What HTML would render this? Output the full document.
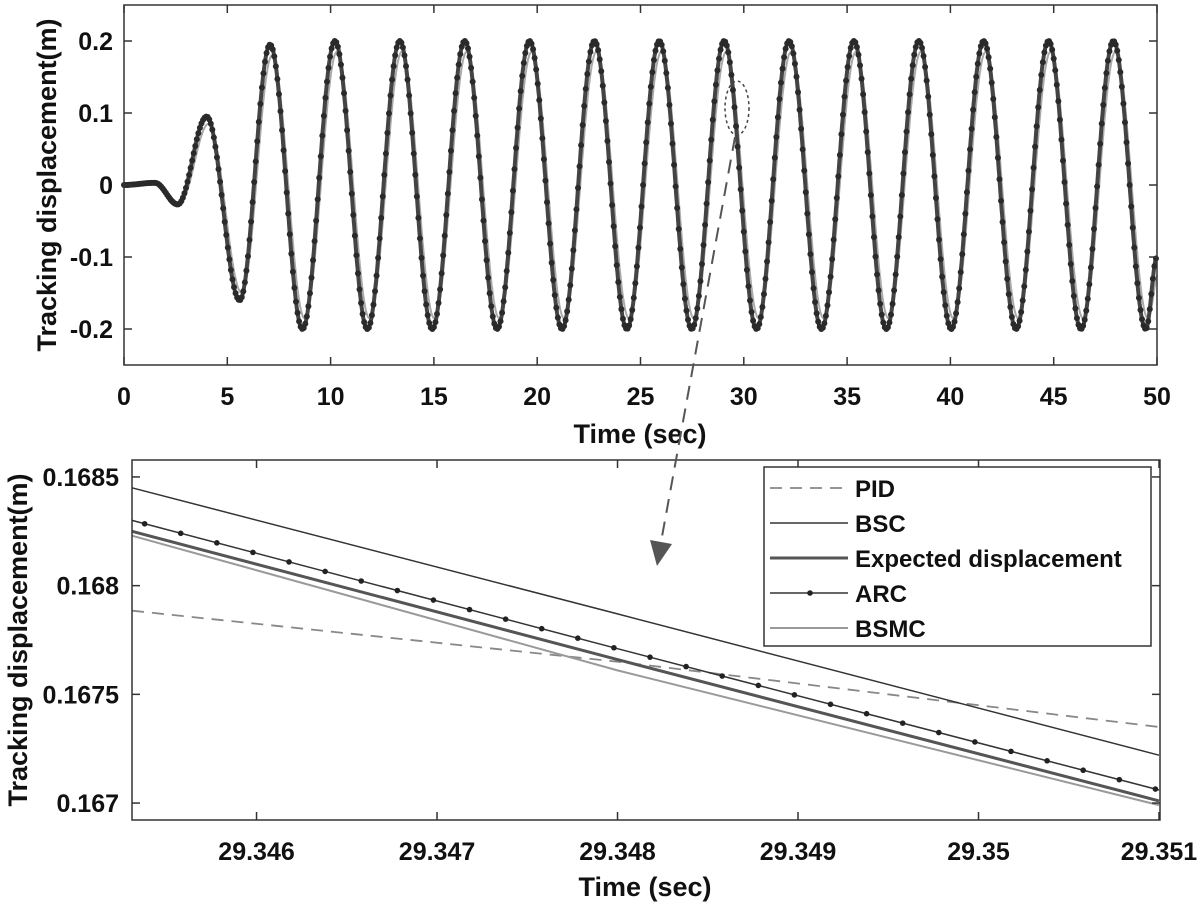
<!DOCTYPE html>
<html><head><meta charset="utf-8"><style>
html,body{margin:0;padding:0;background:#fff;}
svg{display:block;font-family:"Liberation Sans",Arial,sans-serif;font-weight:bold;}
</style></head><body>
<svg id="fig" width="1200" height="906" viewBox="0 0 1200 906" xmlns="http://www.w3.org/2000/svg"></svg>
<script>
// ---- Top chart data (extrema of each response) ----
const topExtremaTimes = [0,1.5,2.6,4.0,5.6,7.07,8.64,10.21,11.78,13.35,14.92,16.49,18.06,19.63,21.2,22.77,24.34,25.91,27.48,29.05,30.62,32.19,33.76,35.33,36.9,38.47,40.04,41.61,43.18,44.75,46.32,47.89,49.46,50];
const expectedExtrema = [0,0.003,-0.027,0.095,-0.16,0.195,-0.2,0.2,-0.2,0.2,-0.2,0.2,-0.2,0.2,-0.2,0.2,-0.2,0.2,-0.2,0.2,-0.2,0.2,-0.2,0.2,-0.2,0.2,-0.2,0.2,-0.2,0.2,-0.2,0.2,-0.2,-0.1];
const bsmcExtrema = [0,0.002,-0.025,0.085,-0.15,0.18,-0.185,0.185,-0.185,0.185,-0.185,0.185,-0.185,0.185,-0.185,0.185,-0.185,0.185,-0.185,0.185,-0.185,0.185,-0.185,0.185,-0.185,0.185,-0.185,0.185,-0.185,0.185,-0.185,0.185,-0.185,-0.12];
const topXTicks = [0,5,10,15,20,25,30,35,40,45,50];
const topYTicks = [-0.2,-0.1,0,0.1,0.2];
const topYTickLabels = ["-0.2","-0.1","0","0.1","0.2"];

// ---- Zoom chart data ----
const zoomTimes = [29.34531,29.348,29.351];
const pidValues = [0.167885,0.16765,0.16735];
const bscValues = [0.16845,0.16787,0.16722];
const expectedValues = [0.16825,0.16766,0.16701];
const arcValues = [0.16830,0.16771,0.16706];
const bsmcValues = [0.16823,0.16761,0.16699];
const zoomXTicks = [29.346,29.347,29.348,29.349,29.35,29.351];
const zoomXTickLabels = ["29.346","29.347","29.348","29.349","29.35","29.351"];
const zoomYTicks = [0.167,0.1675,0.168,0.1685];
const zoomYTickLabels = ["0.167","0.1675","0.168","0.1685"];
const legendNames = ["PID","BSC","Expected displacement","ARC","BSMC"];

const svg=document.getElementById('fig');
const NS='http://www.w3.org/2000/svg';
function mk(tag,attrs,parent){const e=document.createElementNS(NS,tag);for(const k in attrs)e.setAttribute(k,attrs[k]);(parent||svg).appendChild(e);return e;}

// Top axes
const T={x0:124,x1:1157,y0:5,y1:365,xmin:0,xmax:50,ymin:-0.25,ymax:0.25};
const tx=v=>T.x0+(v-T.xmin)/(T.xmax-T.xmin)*(T.x1-T.x0);
const ty=v=>T.y1-(v-T.ymin)/(T.ymax-T.ymin)*(T.y1-T.y0);
function evalExt(times,vals,t){
  for(let i=0;i<times.length-1;i++){
    if(t>=times[i]&&t<=times[i+1]){const u=(t-times[i])/(times[i+1]-times[i]);return vals[i]+(vals[i+1]-vals[i])*(1-Math.cos(Math.PI*u))/2;}
  }
  return vals[vals.length-1];
}
function pathExt(times,vals,step,lag){
  let d='';
  for(let t=T.xmin;t<=T.xmax+1e-9;t+=step){d+=(d?'L':'M')+tx(t).toFixed(1)+','+ty(evalExt(times,vals,Math.max(0,t-lag))).toFixed(1);}
  return d;
}
let g=mk('g',{});


let p=mk('path',{d:pathExt(topExtremaTimes,bsmcExtrema,0.02,0.1),fill:'none',stroke:'#aaa','stroke-width':2},g);


p=mk('path',{d:pathExt(topExtremaTimes,expectedExtrema,0.02,0),fill:'none',stroke:'#444','stroke-width':4},g);


for(let t=0;t<=50;t+=0.075){
  const c=mk('circle',{cx:tx(t),cy:ty(evalExt(topExtremaTimes,expectedExtrema,t)),r:3,fill:'#2a2a2a'},g);
  
  
}
let r=mk('rect',{x:T.x0,y:T.y0,width:T.x1-T.x0,height:T.y1-T.y0,fill:'none',stroke:'#333','stroke-width':1.5});


topXTicks.forEach(v=>{
  const x=tx(v);
  mk('line',{x1:x,x2:x,y1:T.y1,y2:T.y1-8,stroke:'#333','stroke-width':1.5});
  mk('line',{x1:x,x2:x,y1:T.y0,y2:T.y0+8,stroke:'#333','stroke-width':1.5});
  const t=mk('text',{x:x,y:405,'text-anchor':'middle','font-size':25,fill:'#111'});t.textContent=String(v);
  
  
});
topYTicks.forEach((v,i)=>{
  const y=ty(v);
  mk('line',{x1:T.x0,x2:T.x0+8,y1:y,y2:y,stroke:'#333','stroke-width':1.5});
  mk('line',{x1:T.x1,x2:T.x1-8,y1:y,y2:y,stroke:'#333','stroke-width':1.5});
  const t=mk('text',{x:113,y:y+9,'text-anchor':'end','font-size':25,fill:'#111'});t.textContent=topYTickLabels[i];
  
  
});
let t=mk('text',{x:640,y:443,'text-anchor':'middle','font-size':27,fill:'#111'});t.textContent='Time (sec)';


t=mk('text',{x:0,y:0,'text-anchor':'middle','font-size':27,fill:'#111',transform:'translate(56,185) rotate(-90)'});t.textContent='Tracking displacement(m)';



// Zoom axes
const Z={x0:132,x1:1160,y0:460,y1:820,xmin:29.34531,xmax:29.351,ymin:0.166922,ymax:0.168578};
Z.xmax=29.346+(Z.x1-257)/180.4*0.001;
const zx=v=>Z.x0+(v-Z.xmin)/(Z.xmax-Z.xmin)*(Z.x1-Z.x0);
const zy=v=>Z.y1-(v-Z.ymin)/(Z.ymax-Z.ymin)*(Z.y1-Z.y0);
function linVal(vals,t){for(let i=0;i<zoomTimes.length-1;i++){if(t<=zoomTimes[i+1]||i==zoomTimes.length-2){const u=(t-zoomTimes[i])/(zoomTimes[i+1]-zoomTimes[i]);return vals[i]+(vals[i+1]-vals[i])*u;}}}
function zpath(vals){return vals.map((v,i)=>(i?'L':'M')+zx(zoomTimes[i]).toFixed(1)+','+zy(v).toFixed(1)).join('');}
const zg=mk('g',{});


const styles=[
 {vals:pidValues,stroke:'#888',w:1.8,dash:'12,8',name:'zoom-pid-line'},
 {vals:bscValues,stroke:'#333',w:1.5,dash:'',name:'zoom-bsc-line'},
 {vals:expectedValues,stroke:'#555',w:3,dash:'',name:'zoom-expected-line'},
 {vals:arcValues,stroke:'#333',w:1.5,dash:'',name:'zoom-arc-line'},
 {vals:bsmcValues,stroke:'#999',w:2,dash:'',name:'zoom-bsmc-line'}];
styles.forEach(s=>{
  const e=mk('path',{d:zpath(s.vals),fill:'none',stroke:s.stroke,'stroke-width':s.w,'stroke-dasharray':s.dash},zg);
  
  
});
for(let tt=29.34538;tt<=29.3511;tt+=0.0002){
  const c=mk('circle',{cx:zx(tt),cy:zy(linVal(arcValues,tt)),r:2.8,fill:'#222'},zg);
  
  
}
r=mk('rect',{x:Z.x0,y:Z.y0,width:Z.x1-Z.x0,height:Z.y1-Z.y0,fill:'none',stroke:'#333','stroke-width':1.5});


zoomXTicks.forEach((v,i)=>{
  const x=zx(v);
  mk('line',{x1:x,x2:x,y1:Z.y1,y2:Z.y1-8,stroke:'#333','stroke-width':1.5});
  mk('line',{x1:x,x2:x,y1:Z.y0,y2:Z.y0+8,stroke:'#333','stroke-width':1.5});
  const e=mk('text',{x:x,y:860,'text-anchor':'middle','font-size':25,fill:'#111'});e.textContent=zoomXTickLabels[i];
  
  
});
zoomYTicks.forEach((v,i)=>{
  const y=zy(v);
  mk('line',{x1:Z.x0,x2:Z.x0+8,y1:y,y2:y,stroke:'#333','stroke-width':1.5});
  mk('line',{x1:Z.x1,x2:Z.x1-8,y1:y,y2:y,stroke:'#333','stroke-width':1.5});
  const e=mk('text',{x:119,y:y+9,'text-anchor':'end','font-size':25,fill:'#111'});e.textContent=zoomYTickLabels[i];
  
  
});
t=mk('text',{x:645,y:896,'text-anchor':'middle','font-size':27,fill:'#111'});t.textContent='Time (sec)';


t=mk('text',{x:0,y:0,'text-anchor':'middle','font-size':27,fill:'#111',transform:'translate(27,640) rotate(-90)'});t.textContent='Tracking displacement(m)';



// Legend
const lg=mk('g',{});


mk('rect',{x:764,y:467,width:387,height:179,fill:'#fff',stroke:'#333','stroke-width':1.5},lg);
legendNames.forEach((n,i)=>{
  const y=488+i*35, s=styles[i];
  const ent=mk('g',{},lg);
  
  
  mk('line',{x1:770,x2:848,y1:y,y2:y,stroke:s.stroke,'stroke-width':s.w,'stroke-dasharray':s.dash},ent);
  if(n==='ARC')mk('circle',{cx:810,cy:y,r:2.8,fill:'#222'},ent);
  const e=mk('text',{x:855,y:y+9,'font-size':24,fill:'#111'},ent);e.textContent=n;
});

// Annotation ellipse and arrow
const an=mk('g',{});


mk('ellipse',{cx:737,cy:108,rx:12,ry:27,fill:'none',stroke:'#444','stroke-width':1.5,'stroke-dasharray':'3,3'},an);
mk('line',{x1:735,y1:137,x2:661,y2:542,stroke:'#555','stroke-width':2,'stroke-dasharray':'14,9'},an);
mk('polygon',{points:'650,540 672,544 657,566',fill:'#555'},an);
</script>
</body></html>
